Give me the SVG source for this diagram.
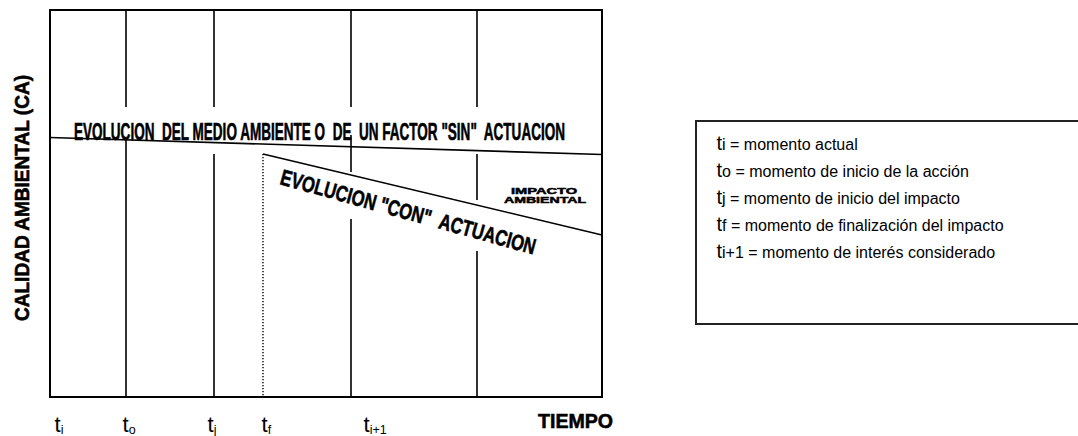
<svg xmlns="http://www.w3.org/2000/svg" width="1078" height="436" viewBox="0 0 1078 436">
<style>
.ln{stroke:#000;stroke-width:1.6;fill:none}
.fr{stroke:#000;stroke-width:2;fill:none}
.dot{stroke:#000;stroke-width:1.4;stroke-dasharray:1.2 1.8;fill:none}
.cond{font-family:"Liberation Sans Narrow","Liberation Sans",Arial,sans-serif;font-weight:bold;fill:#000;stroke:#000;stroke-width:0.6}
.ax{font-family:"Liberation Sans",Arial,sans-serif;fill:#000}
.wide{font-family:"Liberation Sans",Arial,sans-serif;font-weight:900;fill:#000;stroke:#000;stroke-width:0.5}
</style>
<rect width="1078" height="436" fill="#fff"/>
<g id="frame">
<rect class="fr" x="50" y="10" width="552" height="387"/>
</g>
<g id="connectors">
<path class="ln" d="M126 10V107M126 138V397"/>
<path class="ln" d="M214 10V107M214 154V397"/>
<path class="ln" d="M351 10V107M351 135V172M351 219V397"/>
<path class="ln" d="M477 10V107M477 154V200M477 251V397"/>
<path class="dot" d="M263 154V397"/>
<path class="ln" d="M50 137.5L602 154.5"/>
<path class="ln" d="M263 154L602 235"/>
</g>
<g id="sin-label">
<text class="cond" x="74" y="139.5" font-size="23" textLength="491" lengthAdjust="spacingAndGlyphs" style="white-space:pre">EVOLUCION  DEL MEDIO AMBIENTE O  DE  UN FACTOR "SIN"  ACTUACION</text>
</g>
<g id="con-label">
<text class="cond" x="0" y="0" font-size="22" textLength="264" lengthAdjust="spacingAndGlyphs" style="white-space:pre" transform="translate(279 184) rotate(15.5)">EVOLUCION "CON"  ACTUACION</text>
</g>
<g id="impacto">
<text class="wide" x="544" y="194" font-size="9" text-anchor="middle" textLength="66" lengthAdjust="spacingAndGlyphs">IMPACTO</text>
<text class="wide" x="545" y="202.5" font-size="9" text-anchor="middle" textLength="82" lengthAdjust="spacingAndGlyphs">AMBIENTAL</text>
</g>
<g id="y-axis-label">
<text class="cond" font-size="21" text-anchor="middle" textLength="246" lengthAdjust="spacingAndGlyphs" transform="translate(28.5 198) rotate(-90)">CALIDAD AMBIENTAL (CA)</text>
</g>
<g id="x-axis-label">
<text class="cond" x="538" y="428" font-size="21" textLength="75" lengthAdjust="spacingAndGlyphs">TIEMPO</text>
</g>
<g id="time-labels" class="ax">
<text x="54.5" y="432" font-size="22">t<tspan font-size="12.5" dy="2">i</tspan></text>
<text x="122.5" y="432" font-size="22">t<tspan font-size="12.5" dy="2">o</tspan></text>
<text x="207.5" y="432" font-size="22">t<tspan font-size="12.5" dy="2">j</tspan></text>
<text x="261.5" y="432" font-size="22">t<tspan font-size="12.5" dy="2">f</tspan></text>
<text x="363.5" y="432" font-size="22">t<tspan font-size="12.5" dy="2">i+1</tspan></text>
</g>
<g id="legend">
<rect x="696" y="121" width="420" height="203" fill="none" stroke="#222" stroke-width="2"/>
<g class="ax">
<text x="716.5" y="150" font-size="20">t<tspan font-size="16">i = momento actual</tspan></text>
<text x="716.5" y="177" font-size="20">t<tspan font-size="16">o = momento de inicio de la acción</tspan></text>
<text x="716.5" y="204" font-size="20">t<tspan font-size="16">j = momento de inicio del impacto</tspan></text>
<text x="716.5" y="231" font-size="20">t<tspan font-size="16">f = momento de finalización del impacto</tspan></text>
<text x="716.5" y="258" font-size="20">t<tspan font-size="16">i+1 = momento de interés considerado</tspan></text>
</g>
</g>
</svg>
